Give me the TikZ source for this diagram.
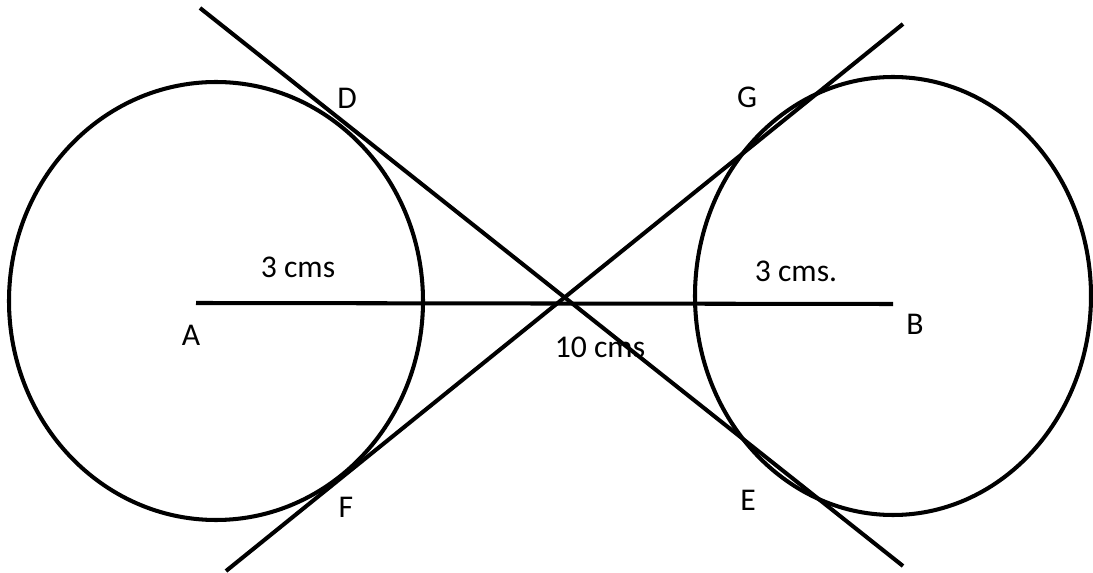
\documentclass[tikz,border=0pt]{standalone}
\usepackage{fontspec}
\setmainfont{Carlito}
\usetikzlibrary{positioning}

\begin{document}
\begin{tikzpicture}[x=0.01cm, y=-0.01cm, line width=1.15pt, every node/.style={font=\fontsize{9}{11}\selectfont, inner sep=0pt}]
  \useasboundingbox (0,0) rectangle (1093,573);
  % circles
  \draw (216,301) ellipse [x radius=207, y radius=219];
  \draw (893,296) ellipse [x radius=198, y radius=219];
  % centres and line ends
  \coordinate (A) at (196,303);
  \coordinate (B) at (893,304);
  \coordinate (p1) at (200,8);
  \coordinate (p2) at (903,566);
  \coordinate (q1) at (226,571);
  \coordinate (q2) at (903,24);
  \draw (A) -- (B);
  \draw (p1) -- (p2);
  \draw (q1) -- (q2);
  % labels
  \node (lD) at (347,98) {D};
  \node (lG) at (747,97) {G};
  \node (lA) at (191,335) {A};
  \node (lB) at (915,324) {B};
  \node (lF) at (346,507) {F};
  \node (lE) at (748,500) {E};
  \node (rA) at (298,267) {3 cms};
  \node (rB) at (796,271) {3 cms.};
  \node (dAB) at (600,347) {10 cms};
\end{tikzpicture}
\end{document}
